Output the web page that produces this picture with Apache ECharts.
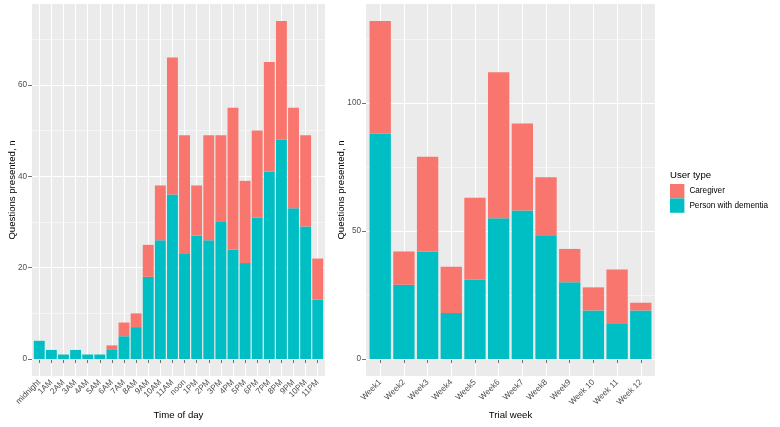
<!DOCTYPE html>
<html>
<head>
<meta charset="utf-8">
<script src="https://cdn.jsdelivr.net/npm/echarts@6/dist/echarts.min.js"></script>
<style>
  html, body { margin: 0; padding: 0; background: #fff; }
  #main { width: 780px; height: 427px; }
</style>
</head>
<body>
<div id="main"></div>
<script>
// time of day panel
var hours = ['midnight', '1AM', '2AM', '3AM', '4AM', '5AM', '6AM', '7AM', '8AM', '9AM', '10AM', '11AM',
  'noon', '1PM', '2PM', '3PM', '4PM', '5PM', '6PM', '7PM', '8PM', '9PM', '10PM', '11PM'];
var hourPwd = [4, 2, 1, 2, 1, 1, 2, 5, 7, 18, 26, 36, 23, 27, 26, 30, 24, 21, 31, 41, 48, 33, 29, 13];
var hourCare = [0, 0, 0, 0, 0, 0, 1, 3, 3, 7, 12, 30, 26, 11, 23, 19, 31, 18, 19, 24, 26, 22, 20, 9];
var hourTicks = [0, 20, 40, 60];
var hourMinor = [10, 30, 50, 70];

// trial week panel
var weeks = ['Week1', 'Week2', 'Week3', 'Week4', 'Week5', 'Week6', 'Week7', 'Week8', 'Week9',
  'Week 10', 'Week 11', 'Week 12'];
var weekPwd = [88, 29, 42, 18, 31, 55, 58, 48, 30, 19, 14, 19];
var weekCare = [44, 13, 37, 18, 32, 57, 34, 23, 13, 9, 21, 3];
var weekTicks = [0, 50, 100];
var weekMinor = [25, 75, 125];

var RED = '#F8766D', TEAL = '#00BFC4';
var FONT = '"Liberation Sans", Arial, sans-serif';

// ggplot style expansion: 5% on y, 0.6 units on discrete x
function yRange(pwd, care) {
  var mx = 0;
  for (var i = 0; i < pwd.length; i++) mx = Math.max(mx, pwd[i] + care[i]);
  return [-mx * 0.05, mx * 1.05];
}

var hr = yRange(hourPwd, hourCare);
var wr = yRange(weekPwd, weekCare);

// panel boxes
var panels = [
  { left: 32, width: 293, cats: hours, rng: hr, ticks: hourTicks, minor: hourMinor, pwd: hourPwd, care: hourCare },
  { left: 366, width: 289, cats: weeks, rng: wr, ticks: weekTicks, minor: weekMinor, pwd: weekPwd, care: weekCare }
];
var TOP = 4, H = 372;

var grids = [], xAxes = [], yAxes = [], series = [];

panels.forEach(function (p, k) {
  var n = p.cats.length;
  var unit = p.width / (n - 1 + 1.2);
  var g = grids.length;

  // 1) gray panel + horizontal grid lines
  grids.push({ left: p.left, top: TOP, width: p.width, height: H, show: true,
    backgroundColor: '#EBEBEB', borderWidth: 0, containLabel: false, outerBoundsMode: 'none' });
  xAxes.push({ type: 'value', gridIndex: g, min: 0, max: 1, show: false,
    splitLine: { show: false } });
  yAxes.push({
    type: 'value', gridIndex: g, min: p.rng[0], max: p.rng[1], z: 1,
    axisLine: { show: false },
    axisTick: { show: true, length: 4, customValues: p.ticks, lineStyle: { color: '#333333', width: 0.7 } },
    axisLabel: { customValues: p.ticks, margin: 5, color: '#4D4D4D', fontSize: 8.2, fontFamily: FONT },
    splitLine: { show: true, lineStyle: { color: '#FFFFFF', width: 1 } }
  });
  yAxes.push({
    type: 'value', gridIndex: g, min: p.rng[0], max: p.rng[1], z: 0,
    axisLine: { show: false }, axisLabel: { show: false },
    axisTick: { show: false, customValues: p.minor },
    splitLine: { show: true, lineStyle: { color: '#FFFFFF', width: 0.5 } }
  });

  // 2) vertical grid lines at category centres
  grids.push({ left: p.left + unit * 0.6, top: TOP, width: unit * (n - 1), height: H,
    show: false, containLabel: false, outerBoundsMode: 'none' });
  xAxes.push({ type: 'category', gridIndex: g + 1, data: p.cats, boundaryGap: false,
    axisLine: { show: false }, axisTick: { show: false }, axisLabel: { show: false },
    splitLine: { show: true, interval: 0, lineStyle: { color: '#FFFFFF', width: 1 } } });
  yAxes.push({ type: 'value', gridIndex: g + 1, min: p.rng[0], max: p.rng[1], show: false,
    splitLine: { show: false } });

  // 3) bars, trimmed so bands match ggplot's spacing
  grids.push({ left: p.left + unit * 0.1, top: TOP, width: p.width - unit * 0.2, height: H,
    show: false, containLabel: false, outerBoundsMode: 'none' });
  xAxes.push({
    type: 'category', gridIndex: g + 2, data: p.cats, boundaryGap: true,
    axisLine: { show: false },
    axisTick: { show: true, alignWithLabel: true, interval: 0, length: 4,
      lineStyle: { color: '#333333', width: 0.7 } },
    axisLabel: { interval: 0, rotate: 45, margin: 5, color: '#4D4D4D', fontSize: 8.2, fontFamily: FONT },
    splitLine: { show: false }
  });
  yAxes.push({ type: 'value', gridIndex: g + 2, min: p.rng[0], max: p.rng[1], show: false,
    splitLine: { show: false } });

  var xi = xAxes.length - 1, yi = yAxes.length - 1;
  series.push(
    { name: 'Person with dementia', type: 'bar', data: p.pwd, xAxisIndex: xi, yAxisIndex: yi,
      stack: 's' + k, barCategoryGap: '10%', itemStyle: { color: TEAL }, emphasis: { disabled: true } },
    { name: 'Caregiver', type: 'bar', data: p.care, xAxisIndex: xi, yAxisIndex: yi,
      stack: 's' + k, barCategoryGap: '10%', itemStyle: { color: RED }, emphasis: { disabled: true } }
  );
});

function label(txt, x, y, rot, align, size) {
  return { type: 'text', x: x, y: y, rotation: rot, silent: true,
    style: { text: txt, fill: '#000000', font: size + 'px ' + FONT,
      align: align, verticalAlign: 'middle' } };
}

var chart = echarts.init(document.getElementById('main'), null, { renderer: 'canvas' });
chart.setOption({
  animation: false,
  backgroundColor: '#FFFFFF',
  grid: grids,
  xAxis: xAxes,
  yAxis: yAxes,
  series: series,
  legend: {
    data: ['Caregiver', 'Person with dementia'],
    orient: 'vertical', left: 670, top: 184,
    itemWidth: 14.4, itemHeight: 14.4, itemGap: 0, icon: 'rect', padding: 0,
    selectedMode: false,
    textStyle: { fontSize: 8.2, color: '#000000', fontFamily: FONT }
  },
  graphic: [
    label('Questions presented, n', 12, 190, Math.PI / 2, 'center', 9.6),
    label('Questions presented, n', 341, 190, Math.PI / 2, 'center', 9.6),
    label('Time of day', 178.5, 415, 0, 'center', 9.6),
    label('Trial week', 510.5, 415, 0, 'center', 9.6),
    label('User type', 670, 175, 0, 'left', 9.6)
  ]
});
</script>
</body>
</html>
